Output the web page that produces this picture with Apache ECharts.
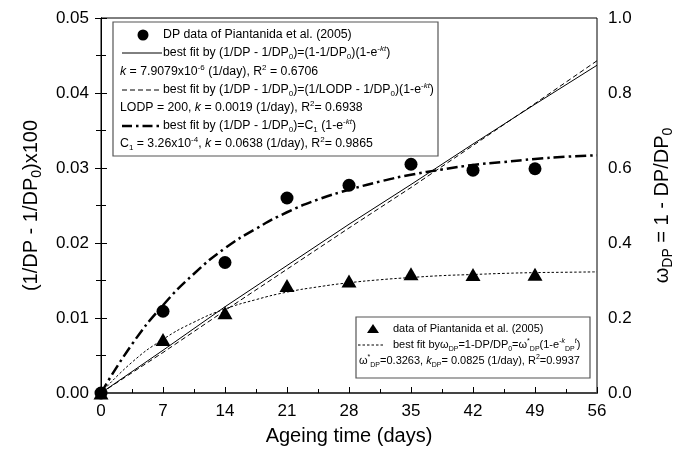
<!DOCTYPE html>
<html>
<head>
<meta charset="utf-8">
<script src="https://cdn.jsdelivr.net/npm/echarts@6/dist/echarts.min.js"></script>
<style>
  html, body { margin: 0; padding: 0; background: #fff; }
  #main { width: 683px; height: 453px; }
</style>
</head>
<body>
<div id="main"></div>
<script>
var days = [0, 7, 14, 21, 28, 35, 42, 49];
var dpData = [0, 0.0109, 0.0174, 0.0260, 0.0277, 0.0305, 0.0297, 0.0299];
var omegaData = [0, 0.143, 0.214, 0.287, 0.299, 0.318, 0.316, 0.317];

// fitted curves
var weekDays = [0, 7, 14, 21, 28, 35, 42, 49, 56];
var fitSolid = [0, 0.0057, 0.0115, 0.0170, 0.0225, 0.0278, 0.0332, 0.0385, 0.0437];
var fitDashed = [0, 0.0054, 0.0110, 0.0165, 0.0220, 0.0274, 0.0330, 0.0386, 0.0443];
var curveDays = [0, 3.5, 7, 10.5, 14, 17.5, 21, 24.5, 28, 31.5, 35, 38.5, 42, 45.5, 49, 52.5, 56];
var fitC1 = [0, 0.0065, 0.0117, 0.0159, 0.0193, 0.0219, 0.0241, 0.0258, 0.0271, 0.0282, 0.0291, 0.0298, 0.0304, 0.0308, 0.0312, 0.0315, 0.0317];
var fitOmega = [0, 0.082, 0.143, 0.189, 0.224, 0.249, 0.269, 0.283, 0.294, 0.302, 0.308, 0.313, 0.316, 0.319, 0.321, 0.322, 0.323];

var xTicks = [0, 56, 7];       // min, max, step
var yLeftTicks = [0, 0.05, 0.01];
var yRightTicks = [0, 1, 0.2];

var FONT = 'Liberation Sans, Arial, Helvetica, sans-serif';

function zip(xs, ys) {
  var out = [];
  for (var i = 0; i < xs.length; i++) out.push([xs[i], ys[i]]);
  return out;
}

// rich styles for legend text (sub / superscripts)
function richSet(size) {
  var s = Math.round(size * 0.68);
  return {
    n: { fontSize: size, fontFamily: FONT, color: '#000', lineHeight: size + 4, verticalAlign: 'middle' },
    i: { fontSize: size, fontFamily: FONT, color: '#000', fontStyle: 'italic', lineHeight: size + 4, verticalAlign: 'middle' },
    sub: { fontSize: s, fontFamily: FONT, color: '#000', lineHeight: s, verticalAlign: 'bottom' },
    sup: { fontSize: s, fontFamily: FONT, color: '#000', lineHeight: s, verticalAlign: 'top' },
    supi: { fontSize: s, fontFamily: FONT, color: '#000', fontStyle: 'italic', lineHeight: s, verticalAlign: 'top' }
  };
}

function txt(x, y, text, size) {
  return {
    type: 'text', x: x, y: y,
    style: { text: text, rich: richSet(size), verticalAlign: 'middle', align: 'left' }
  };
}

var topRows = [
  '{n|DP data of Piantanida et al. (2005)}',
  '{n|best fit by (1/DP - 1/DP}{sub|0}{n|)=(1-1/DP}{sub|0}{n|)(1-e}{sup|-}{supi|kt}{n|)}',
  '{i|k}{n| = 7.9079x10}{sup|-6}{n| (1/day), R}{sup|2}{n| = 0.6706}',
  '{n|best fit by (1/DP - 1/DP}{sub|0}{n|)=(1/LODP - 1/DP}{sub|0}{n|)(1-e}{sup|-}{supi|kt}{n|)}',
  '{n|LODP = 200, }{i|k}{n| = 0.0019 (1/day), R}{sup|2}{n|= 0.6938}',
  '{n|best fit by (1/DP - 1/DP}{sub|0}{n|)=C}{sub|1}{n| (1-e}{sup|-}{supi|kt}{n|)}',
  '{n|C}{sub|1}{n| = 3.26x10}{sup|-4}{n|, }{i|k}{n| = 0.0638 (1/day), R}{sup|2}{n|= 0.9865}'
];
var bottomRows = [
  '{n|data of Piantanida et al. (2005)}',
  '{n|best fit by}{n|ω}{sub|DP}{n|=1-DP/DP}{sub|0}{n|=ω}{sup|*}{sub|DP}{n|(1-e}{sup|-}{supi|k}{sub|DP}{supi|t}{n|)}',
  '{n|ω}{sup|*}{sub|DP}{n|=0.3263, }{i|k}{sub|DP}{n|= 0.0825 (1/day), R}{sup|2}{n|=0.9937}'
];

var topBox = {
  type: 'group', x: 113, y: 22,
  children: [
    { type: 'rect', shape: { x: 0, y: 0, width: 325, height: 134 }, style: { fill: '#fff', stroke: '#555', lineWidth: 1.2 } },
    { type: 'circle', shape: { cx: 30, cy: 13, r: 5.5 }, style: { fill: '#000' } },
    { type: 'line', shape: { x1: 9, y1: 31, x2: 49, y2: 31 }, style: { stroke: '#000', lineWidth: 1 } },
    { type: 'line', shape: { x1: 9, y1: 68, x2: 49, y2: 68 }, style: { stroke: '#000', lineWidth: 1, lineDash: [5, 3] } },
    { type: 'line', shape: { x1: 9, y1: 104, x2: 49, y2: 104 }, style: { stroke: '#000', lineWidth: 2.5, lineDash: [10, 4, 2.5, 4] } },
    txt(50, 13, topRows[0], 12.3),
    txt(50, 31, topRows[1], 12.3),
    txt(7, 50, topRows[2], 12.3),
    txt(50, 68, topRows[3], 12.3),
    txt(7, 86, topRows[4], 12.3),
    txt(50, 104, topRows[5], 12.3),
    txt(7, 122, topRows[6], 12.3)
  ]
};

var bottomBox = {
  type: 'group', x: 356, y: 317,
  children: [
    { type: 'rect', shape: { x: 0, y: 0, width: 234, height: 61 }, style: { fill: '#fff', stroke: '#555', lineWidth: 1.2 } },
    { type: 'polygon', shape: { points: [[17, 7], [23, 16], [11, 16]] }, style: { fill: '#000' } },
    { type: 'line', shape: { x1: 2, y1: 28, x2: 28, y2: 28 }, style: { stroke: '#000', lineWidth: 1, lineDash: [2.5, 2] } },
    txt(37, 12, bottomRows[0], 11),
    txt(37, 28, bottomRows[1], 11),
    txt(3, 44, bottomRows[2], 11)
  ]
};

var axisFont = { fontSize: 17, fontFamily: FONT, color: '#000' };
var nameRich = {
  n: { fontSize: 20, fontFamily: FONT, color: '#000', lineHeight: 25, verticalAlign: 'middle' },
  sub: { fontSize: 14, fontFamily: FONT, color: '#000', lineHeight: 14, verticalAlign: 'bottom' }
};

var option = {
  backgroundColor: '#fff',
  animation: false,
  grid: { left: 101, right: 79, top: 18, bottom: 60, show: true, borderColor: '#000', borderWidth: 1, backgroundColor: 'transparent' },
  xAxis: [{
    type: 'value',
    min: xTicks[0], max: xTicks[1], interval: xTicks[2],
    name: 'Ageing time (days)',
    nameLocation: 'middle', nameGap: 33,
    nameTextStyle: { fontSize: 20, fontFamily: FONT, color: '#000' },
    axisLine: { lineStyle: { color: '#000', width: 1 } },
    axisTick: { inside: true, length: 6, lineStyle: { color: '#000' } },
    minorTick: { show: true, splitNumber: 2, length: 4, lineStyle: { color: '#000' } },
    axisLabel: Object.assign({ margin: 10 }, axisFont),
    splitLine: { show: false }
  }, {
    type: 'value', position: 'top',
    min: xTicks[0], max: xTicks[1],
    axisLine: { lineStyle: { color: '#444', width: 2 } },
    axisTick: { show: false }, axisLabel: { show: false }, splitLine: { show: false }
  }],
  yAxis: [{
    type: 'value',
    min: yLeftTicks[0], max: yLeftTicks[1], interval: yLeftTicks[2],
    name: '{n|(1/DP - 1/DP}{sub|0}{n|)x100}',
    nameLocation: 'middle', nameGap: 57, nameRotate: 90,
    nameTextStyle: { rich: nameRich },
    axisLine: { show: true, lineStyle: { color: '#000', width: 1 } },
    axisTick: { inside: true, length: 6, lineStyle: { color: '#000' } },
    minorTick: { show: true, splitNumber: 2, length: 5, lineStyle: { color: '#000' } },
    axisLabel: Object.assign({ margin: 12, formatter: function (v) { return v.toFixed(2); } }, axisFont),
    splitLine: { show: false }
  }, {
    type: 'value', position: 'right',
    min: yRightTicks[0], max: yRightTicks[1], interval: yRightTicks[2],
    name: '{n|ω}{sub|DP}{n| = 1 - DP/DP}{sub|0}',
    nameLocation: 'middle', nameGap: 53, nameRotate: 90,
    nameTextStyle: { rich: nameRich },
    axisLine: { show: true, lineStyle: { color: '#000', width: 1 } },
    axisTick: { inside: true, length: 6, lineStyle: { color: '#000' } },
    minorTick: { show: true, splitNumber: 2, length: 5, lineStyle: { color: '#000' } },
    axisLabel: Object.assign({ margin: 11, formatter: function (v) { return v.toFixed(1); } }, axisFont),
    splitLine: { show: false }
  }],
  series: [{
    name: 'fit solid', type: 'line', yAxisIndex: 0, data: zip(weekDays, fitSolid),
    showSymbol: false, lineStyle: { color: '#000', width: 1 }, z: 2
  }, {
    name: 'fit dashed', type: 'line', yAxisIndex: 0, data: zip(weekDays, fitDashed),
    showSymbol: false, lineStyle: { color: '#000', width: 1, type: [5, 3] }, z: 2
  }, {
    name: 'fit C1', type: 'line', yAxisIndex: 0, data: zip(curveDays, fitC1),
    showSymbol: false, smooth: true, lineStyle: { color: '#000', width: 2.5, type: [11, 4, 2.5, 4] }, z: 2
  }, {
    name: 'fit omega', type: 'line', yAxisIndex: 1, data: zip(curveDays, fitOmega),
    showSymbol: false, smooth: true, lineStyle: { color: '#000', width: 1, type: [2.5, 2] }, z: 2
  }, {
    name: 'DP data', type: 'scatter', yAxisIndex: 0, data: zip(days, dpData),
    symbol: 'circle', symbolSize: 13, itemStyle: { color: '#000', opacity: 1 }, z: 3
  }, {
    name: 'omega data', type: 'scatter', yAxisIndex: 1, data: zip(days, omegaData),
    symbol: 'triangle', symbolSize: [15, 13], itemStyle: { color: '#000', opacity: 1 }, z: 4
  }],
  graphic: [topBox, bottomBox]
};

var chart = echarts.init(document.getElementById('main'), null, { renderer: 'canvas' });
chart.setOption(option);
</script>
</body>
</html>
